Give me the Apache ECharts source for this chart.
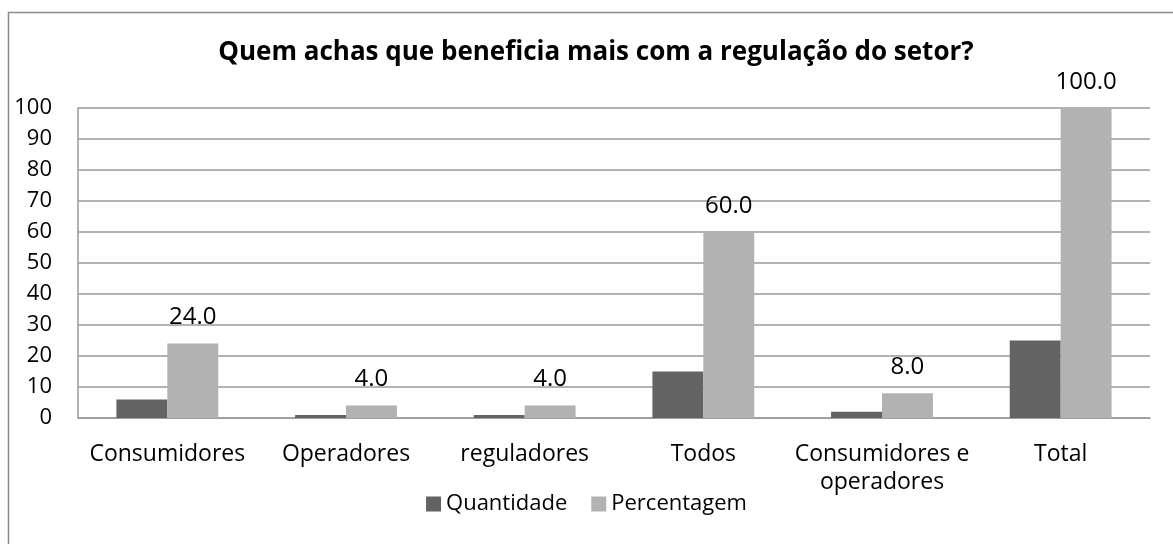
<!DOCTYPE html>
<html>
<head>
<meta charset="utf-8">
<script src="https://cdn.jsdelivr.net/npm/echarts@6/dist/echarts.min.js"></script>
<style>
  html, body { margin: 0; padding: 0; background: #fff; }
  #chart { width: 1173px; height: 544px; }
</style>
</head>
<body>
<div id="chart"></div>
<script>
const categories = ['Consumidores', 'Operadores', 'reguladores', 'Todos', 'Consumidores e\noperadores', 'Total']
const quantidade = [6, 1, 1, 15, 2, 25]
const percentagem = [24.0, 4.0, 4.0, 60.0, 8.0, 100.0]
const seriesNames = ['Quantidade', 'Percentagem']

const FONT = '"Open Sans", "Noto Sans", sans-serif'
const GRID_LINE = '#9a9a9a'

const chart = echarts.init(document.getElementById('chart'))

chart.setOption({
  animation: false,
  backgroundColor: '#fff',
  textStyle: { fontFamily: FONT, color: '#000' },
  title: {
    text: 'Quem achas que beneficia mais com a regulação do setor?',
    left: 591, top: 35, textAlign: 'center',
    textStyle: { fontFamily: FONT, fontWeight: 'bold', fontSize: 26, color: '#000' },
  },
  graphic: [{
    type: 'rect', silent: true,
    shape: { x: 8.5, y: 12.5, width: 1200, height: 600 },
    style: { fill: 'none', stroke: '#8c8c8c', lineWidth: 1.5 },
  }],
  legend: {
    data: seriesNames,
    left: 'center', top: 488,
    itemWidth: 15, itemHeight: 15, itemGap: 24,
    icon: 'rect',
    textStyle: { fontFamily: FONT, fontSize: 22, color: '#000' },
  },
  grid: { left: 78, right: 23, top: 108, bottom: 126 },
  xAxis: {
    type: 'category',
    data: categories,
    axisLine: { show: true, lineStyle: { color: GRID_LINE, width: 1.5 } },
    axisTick: { show: false },
    axisLabel: { margin: 22, fontSize: 23, lineHeight: 28, color: '#000', interval: 0, fontFamily: FONT },
  },
  yAxis: {
    type: 'value', min: 0, max: 100, interval: 10,
    axisLine: { show: true, lineStyle: { color: GRID_LINE, width: 1.5 } },
    axisTick: { show: false },
    axisLabel: { margin: 26, fontSize: 22, color: '#000', fontFamily: FONT },
    splitLine: { lineStyle: { color: GRID_LINE, width: 1.5 } },
  },
  series: [
    {
      name: seriesNames[0], type: 'bar', data: quantidade,
      barGap: '0%', barCategoryGap: '43%',
      itemStyle: { color: '#636363' },
    },
    {
      name: seriesNames[1], type: 'bar', data: percentagem,
      barGap: '0%', barCategoryGap: '43%',
      itemStyle: { color: '#b2b2b2' },
      label: {
        show: true, position: 'top', distance: 14,
        fontSize: 24, color: '#000', fontFamily: FONT,
        formatter: (p) => p.value.toFixed(1),
      },
    },
  ],
})
</script>
</body>
</html>
